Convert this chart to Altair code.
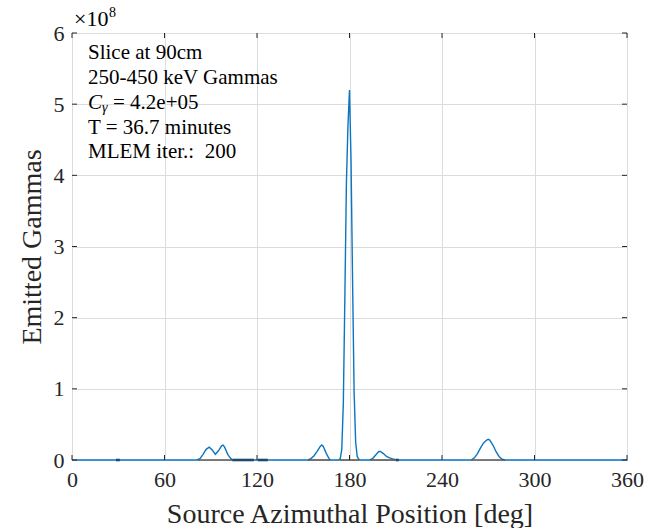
import altair as alt
import pandas as pd

# Reconstructed emission profile (units of 1e8 emitted gammas)
angles = [0, 81, 83, 85, 87, 89, 91, 93, 95, 97, 98, 99, 101, 103, 104,
          153, 155, 157, 159, 161, 162, 163, 165, 167, 168,
          173, 174, 175, 176, 177, 178, 179, 180, 181, 182, 183, 184, 185, 186, 187,
          193, 195, 197, 199, 200, 202, 204, 206, 208, 210, 211,
          259, 261, 263, 265, 267, 269, 270, 271, 273, 275, 277, 279, 281, 360]
values_e8 = [0, 0, 0.02, 0.08, 0.15, 0.18, 0.14, 0.08, 0.13, 0.20, 0.21, 0.18, 0.08, 0.02, 0,
             0, 0.02, 0.06, 0.12, 0.19, 0.21, 0.19, 0.09, 0.01, 0,
             0, 0.02, 0.15, 0.8, 2.3, 3.9, 4.7, 5.2, 4.2, 2.5, 0.95, 0.25, 0.05, 0.01, 0,
             0, 0.02, 0.07, 0.12, 0.12, 0.09, 0.05, 0.03, 0.015, 0.005, 0,
             0, 0.03, 0.09, 0.17, 0.24, 0.28, 0.29, 0.28, 0.21, 0.12, 0.05, 0.01, 0, 0]

# darker baseline segments seen along zero
seg_start = [81.5, 153, 173.5, 193.5, 259, 28.5, 104, 120.5, 210]
seg_end = [104, 167.5, 186.5, 210, 281, 31, 118, 127, 212]
seg_kind = ["under", "under", "under", "under", "under", "dark", "dark", "dark", "dark"]

x_ticks = [0, 60, 120, 180, 240, 300, 360]
y_ticks = [0, 1, 2, 3, 4, 5, 6]

note_lines = ["Slice at 90cm", "250-450 keV Gammas", "T = 36.7 minutes", "MLEM iter.:\u00a0\u00a0200"]

W, H = 555, 427
FONT = "Liberation Serif"
FRAME = "#262626"

curve = pd.DataFrame({"angle": angles, "g": values_e8})
segs = pd.DataFrame({"angle": seg_start, "a1": seg_end, "kind": seg_kind, "g": [0] * len(seg_start)})
xt = pd.DataFrame({"angle": x_ticks})
yt = pd.DataFrame({"g": y_ticks})

xscale = alt.Scale(domain=[0, 360], nice=False, zero=False)
yscale = alt.Scale(domain=[0, 6], nice=False, zero=False)

x_axis = alt.Axis(values=x_ticks, title="Source Azimuthal Position [deg]",
                  grid=True, gridColor="#dcdcdc", gridWidth=1, ticks=False, domain=False,
                  labelFont=FONT, labelFontSize=22, labelColor=FRAME, labelPadding=9,
                  labelFlush=False,
                  titleFont=FONT, titleFontSize=28, titleFontWeight="normal", titleColor=FRAME,
                  titleY=62, titleBaseline="alphabetic")
y_axis = alt.Axis(values=y_ticks, title="Emitted Gammas", format="d",
                  grid=True, gridColor="#dcdcdc", gridWidth=1, ticks=False, domain=False,
                  labelFont=FONT, labelFontSize=22, labelColor=FRAME, labelPadding=8,
                  labelFlush=False,
                  titleFont=FONT, titleFontSize=28, titleFontWeight="normal", titleColor=FRAME,
                  titleAngle=270, titleX=-32, titleY=H / 2, titleAlign="center",
                  titleBaseline="alphabetic")

X = alt.X("angle:Q", scale=xscale, axis=x_axis)
Y = alt.Y("g:Q", scale=yscale, axis=y_axis)

line = alt.Chart(curve).mark_line(color="#0a76c2", strokeWidth=1.4).encode(
    x=X, y=Y, order="angle:Q")

seg_under = alt.Chart(segs).transform_filter(alt.datum.kind == "under").mark_rule(
    color="#555555", strokeWidth=1.6).encode(x=X, x2="a1:Q", y=Y)
seg_dark = alt.Chart(segs).transform_filter(alt.datum.kind == "dark").mark_rule(
    color="#1d4a73", strokeWidth=2.6).encode(x=X, x2="a1:Q", y=Y)

tick_b = alt.Chart(xt).mark_rule(color=FRAME, strokeWidth=1).encode(
    x=X, y=alt.value(H), y2=alt.value(H - 5))
tick_t = alt.Chart(xt).mark_rule(color=FRAME, strokeWidth=1).encode(
    x=X, y=alt.value(0), y2=alt.value(5))
tick_l = alt.Chart(yt).mark_rule(color=FRAME, strokeWidth=1).encode(
    y=Y, x=alt.value(0), x2=alt.value(5))
tick_r = alt.Chart(yt).mark_rule(color=FRAME, strokeWidth=1).encode(
    y=Y, x=alt.value(W), x2=alt.value(W - 5))

one = pd.DataFrame({"k": [0]})


def txt(s, x, y, size=21, style="normal", align="left"):
    return alt.Chart(one).mark_text(
        font=FONT, fontSize=size, fontStyle=style, align=align, baseline="middle", color="#000000"
    ).encode(x=alt.value(x), y=alt.value(y), text=alt.value(s))


notes = [
    txt(note_lines[0], 16, 20),
    txt(note_lines[1], 16, 45),
    txt("C", 16, 70, style="italic"),
    txt("\u03b3", 30, 75, size=14, style="italic"),
    txt("= 4.2e+05", 41, 70),
    txt(note_lines[2], 16, 95),
    txt(note_lines[3], 16, 119),
    txt("\u00d710", 2, -14, size=22),
    txt("8", 37, -20, size=14),
]

chart = alt.layer(
    line, seg_under, seg_dark, tick_b, tick_t, tick_l, tick_r, *notes
).properties(
    width=W, height=H,
    autosize=alt.AutoSizeParams(type="none"),
    padding={"left": 72, "top": 33, "right": 19, "bottom": 68},
    background="white",
).configure_view(stroke=FRAME, strokeWidth=1)

chart.save("out.html", embed_options={"renderer": "svg", "actions": False})
